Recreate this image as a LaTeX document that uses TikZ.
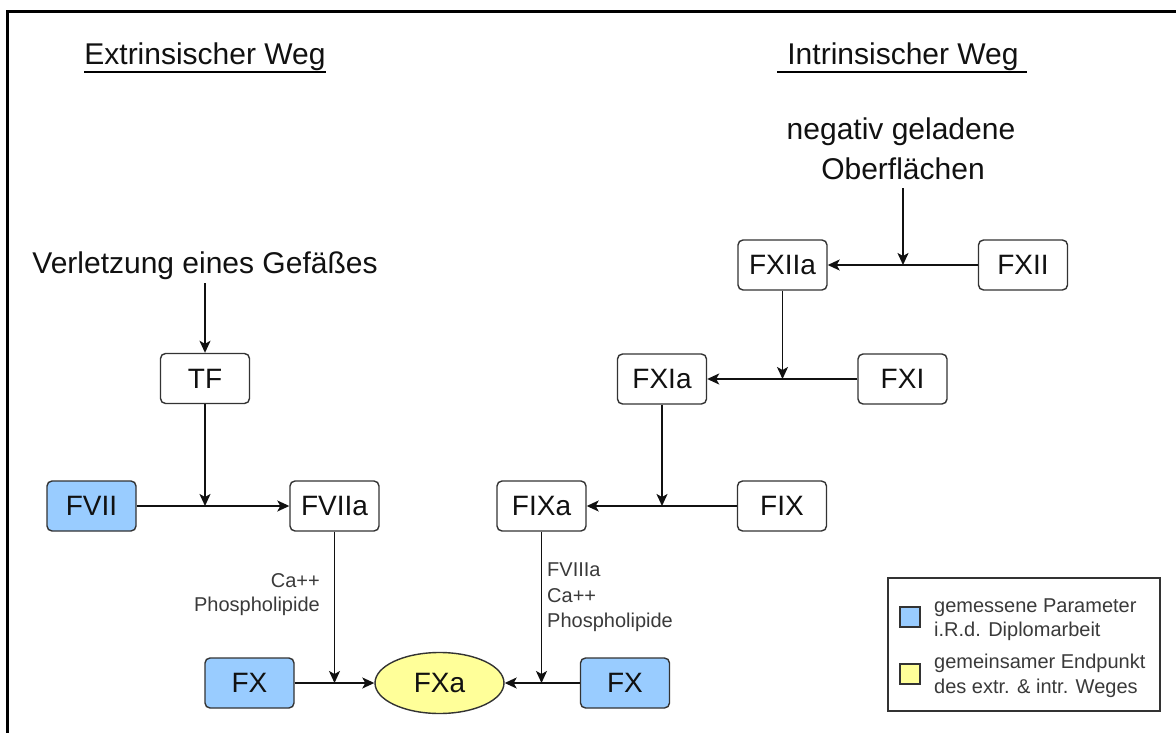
\documentclass[tikz,border=0pt]{standalone}
\usepackage{fontspec}
\setmainfont{Liberation Sans}
\usetikzlibrary{arrows.meta,shapes.geometric}
\definecolor{boxblue}{HTML}{99CCFF}
\definecolor{boxyellow}{HTML}{FFFF99}
\definecolor{edgecol}{HTML}{333333}
\definecolor{txt}{HTML}{111111}
\definecolor{smalltxt}{HTML}{3A3A3A}
\begin{document}
\begin{tikzpicture}[x=1pt,y=-1pt,
  factor/.style={draw=edgecol, line width=1.4pt, rounded corners=5pt, minimum width=89pt, minimum height=50pt, inner sep=0pt, font=\fontsize{28}{30}\selectfont, text=txt, fill=white},
  measured/.style={factor, fill=boxblue},
  endpoint/.style={ellipse, draw=edgecol, line width=1.4pt, fill=boxyellow, minimum width=129pt, minimum height=61pt, inner sep=0pt, font=\fontsize{28}{30}\selectfont, text=txt},
  big/.style={font=\fontsize{30}{34}\selectfont, inner sep=0pt, text=txt},
  note/.style={font=\fontsize{20}{24}\selectfont, inner sep=0pt, text=smalltxt},
  conn/.style={draw=txt, line width=1.5pt, -{Stealth[length=12pt,width=11pt,inset=3pt]}},
  legsq/.style={draw=edgecol, line width=1.2pt, minimum size=20pt, inner sep=0pt},
]
\useasboundingbox (0,0) rectangle (1176,733);
\fill[white] (0,0) rectangle (1176,733);
\draw[line width=3pt] (7,733) -- (7,12) -- (1176,12);

% titles
\node[big, anchor=base] (ext) at (205,65) {Extrinsischer Weg};
\draw[line width=2pt] ([yshift=-7pt]ext.base west) -- ([yshift=-7pt]ext.base east);
\node[big, anchor=base] (int) at (903,65) {Intrinsischer Weg};
\draw[line width=2pt] ([yshift=-7pt,xshift=-10pt]int.base west) -- ([yshift=-7pt,xshift=8pt]int.base east);

% trigger texts
\node[big, anchor=base] (inj) at (205,273) {Verletzung eines Gefäßes};
\node[big, anchor=base] (neg1) at (901,140) {negativ geladene};
\node[big, anchor=base] (neg2) at (903,180) {Oberflächen};

% factors
\node[factor] (TF) at (205,378.5) {TF};
\node[measured] (FVII) at (91.5,506) {FVII};
\node[factor] (FVIIa) at (334.5,506) {FVIIa};
\node[measured] (FXl) at (249.5,683) {FX};
\node[endpoint] (FXa) at (439.5,683) {FXa};
\node[measured] (FXr) at (625,683) {FX};
\node[factor] (FIXa) at (541.5,506) {FIXa};
\node[factor] (FIX) at (782,506) {FIX};
\node[factor] (FXIIa) at (782.5,265) {FXIIa};
\node[factor] (FXII) at (1023,265) {FXII};
\node[factor] (FXIa) at (662,379) {FXIa};
\node[factor] (FXI) at (902.5,379) {FXI};

% connectors
\draw[conn, shorten <=4pt] (inj.south) -- (TF.north);
\draw[conn] (TF.south) -- (TF.south |- FVII.east);
\draw[conn] (FVII.east) -- (FVIIa.west);
\draw[conn] (FVIIa.south) -- (FVIIa.south |- FXl.east);
\draw[conn] (FXl.east) -- (FXa.west);
\draw[conn] (FXr.west) -- (FXa.east);
\draw[conn] (FIXa.south) -- (FIXa.south |- FXr.west);
\draw[conn] (FIX.west) -- (FIXa.east);
\draw[conn] (FXIa.south) -- (FXIa.south |- FIX.west);
\draw[conn] (FXI.west) -- (FXIa.east);
\draw[conn] (FXIIa.south) -- (FXIIa.south |- FXI.west);
\draw[conn] (FXII.west) -- (FXIIa.east);
\draw[conn, shorten <=8pt] (neg2.south) -- (neg2.south |- FXII.west);

% cofactor labels
\node[note, anchor=base east] (ca1) at (320,587) {Ca++};
\node[note, anchor=base east] (pl1) at (320,611) {Phospholipide};
\node[note, anchor=base west] (f8) at (547,576) {FVIIIa};
\node[note, anchor=base west] (ca2) at (547,602) {Ca++};
\node[note, anchor=base west] (pl2) at (547,627) {Phospholipide};

% legend
\node[draw=edgecol, line width=1.2pt, minimum width=272pt, minimum height=133pt, inner sep=0pt] (legend) at (1024,644.5) {};
\node[legsq, fill=boxblue] (lblue) at (910,617) {};
\node[legsq, fill=boxyellow] (lyellow) at (910,674) {};
\node[note, anchor=base west] (lt1) at (934,612) {gemessene Parameter};
\node[note, anchor=base west] (lt2) at (934,636) {i.R.d. Diplomarbeit};
\node[note, anchor=base west] (lt3) at (934,668) {gemeinsamer Endpunkt};
\node[note, anchor=base west] (lt4) at (934,693) {des extr. \& intr. Weges};
\end{tikzpicture}
\end{document}
